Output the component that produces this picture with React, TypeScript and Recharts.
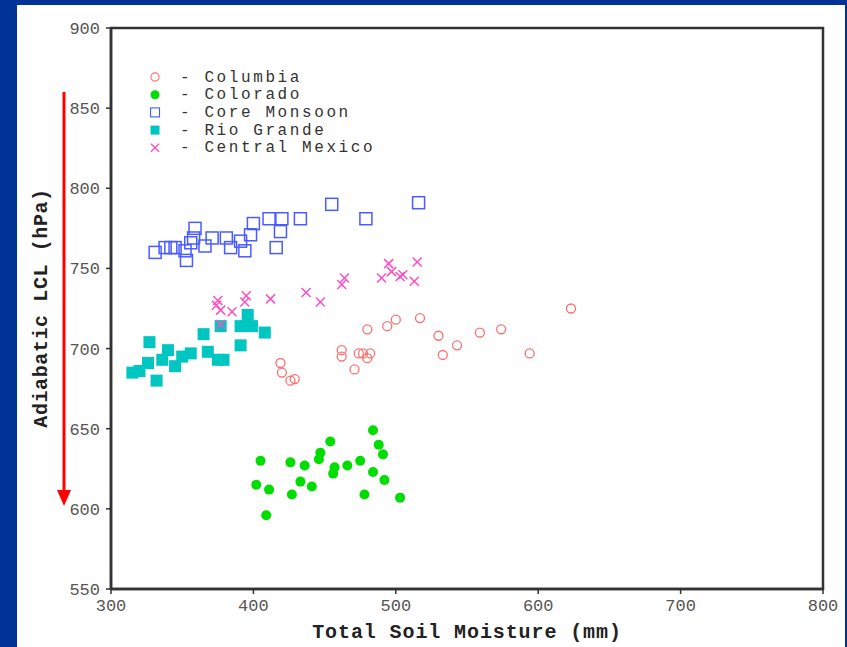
import React from 'react';
import { ScatterChart, Scatter, XAxis, YAxis, ReferenceArea } from 'recharts';

const columbiaX = [462, 462, 474, 477, 482, 480, 471, 480, 494, 500, 517, 530, 533, 543, 559, 574, 594, 623, 419, 420, 426, 429];
const columbiaY = [699, 695, 697, 697, 697, 694, 687, 712, 714, 718, 719, 708, 696, 702, 710, 712, 697, 725, 691, 685, 680, 681];

const coloradoX = [436, 433, 441, 447, 446, 454, 457, 456, 466, 475, 478, 484, 488, 491, 484, 492, 503, 402, 411, 409, 427, 405, 426];
const coloradoY = [627, 617, 614, 635, 631, 642, 626, 622, 627, 630, 609, 649, 640, 634, 623, 618, 607, 615, 612, 596, 609, 630, 629];

const coreX = [331, 338, 342, 345, 352, 353, 359, 358, 356, 366, 371, 381, 384, 391, 394, 398, 400, 411, 420, 419, 416, 433, 455, 479, 516];
const coreY = [760, 763, 763, 763, 761, 755, 775, 769, 766, 764, 769, 769, 763, 767, 761, 771, 778, 781, 781, 773, 763, 781, 790, 781, 791];

const rioX = [315, 320, 327, 326, 332, 336, 340, 345, 350, 356, 365, 368, 375, 379, 377, 391, 391, 396, 399, 408];
const rioY = [685, 686, 704, 691, 680, 693, 699, 689, 695, 697, 709, 698, 693, 693, 714, 702, 714, 721, 714, 710];

const mexicoX = [374, 375, 377, 385, 395, 394, 412, 437, 447, 462, 464, 377, 495, 515, 490, 497, 503, 505, 513];
const mexicoY = [727, 730, 724, 723, 733, 729, 731, 735, 729, 740, 744, 715, 753, 754, 744, 748, 745, 746, 742];

const seriesNames = ['Columbia', 'Colorado', 'Core Monsoon', 'Rio Grande', 'Central Mexico'];
const xTicks = [300, 400, 500, 600, 700, 800];
const yTicks = [550, 600, 650, 700, 750, 800, 850, 900];
const minorXTicks = Array.from({ length: 51 }, (_, i) => 300 + i * 10);

const xTitle = 'Total Soil Moisture (mm)';
const yTitle = 'Adiabatic LCL (hPa)';

const zip = (xs: number[], ys: number[]) => xs.map((x, i) => ({ x, y: ys[i] }));

const C_COL = '#ff6f6f';
const C_COLO = '#00dd00';
const C_CORE = '#4a5cff';
const C_RIO = '#00c6c2';
const C_MEX = '#ff4fc4';

const OpenCircle = (p: any) => <circle cx={p.cx} cy={p.cy} r={4.5} fill="none" stroke={C_COL} strokeWidth={1.3} />;
const FilledCircle = (p: any) => <circle cx={p.cx} cy={p.cy} r={5} fill={C_COLO} />;
const OpenSquare = (p: any) => <rect x={p.cx - 6} y={p.cy - 6} width={12} height={12} fill="none" stroke={C_CORE} strokeWidth={1.5} />;
const FilledSquare = (p: any) => <rect x={p.cx - 6} y={p.cy - 6} width={12} height={12} fill={C_RIO} />;
const Cross = (p: any) => (
  <g stroke={C_MEX} strokeWidth={1.5}>
    <line x1={p.cx - 4.5} y1={p.cy - 4.5} x2={p.cx + 4.5} y2={p.cy + 4.5} />
    <line x1={p.cx - 4.5} y1={p.cy + 4.5} x2={p.cx + 4.5} y2={p.cy - 4.5} />
  </g>
);

const legendShapes = [OpenCircle, FilledCircle, OpenSquare, FilledSquare, Cross];

const FONT = '"Liberation Mono", "DejaVu Sans Mono", monospace';

const LegendBox = () => (
  <svg width={260} height={110} style={{ position: 'absolute', left: 140, top: 59 }}>
    {seriesNames.map((n, i) => {
      const Shape = legendShapes[i];
      const cy = 18 + i * 17.7;
      const sc = i === 2 || i === 3 ? 0.75 : 0.9;
      return (
        <g key={n}>
          <g transform={`translate(15,${cy}) scale(${sc}) translate(-15,${-cy})`}>
            <Shape cx={15} cy={cy} />
          </g>
          <text x={40} y={cy + 4.5} fontFamily={FONT} fontSize={16} letterSpacing={2.6} fill="#333">
            {'- ' + n}
          </text>
        </g>
      );
    })}
  </svg>
);

export default function App() {
  return (
    <div style={{ position: 'fixed', left: 0, top: 0, width: 847, height: 647, background: '#013397', overflow: 'hidden' }}>
      <div style={{ position: 'absolute', left: 17, top: 5, width: 828, height: 642, background: '#ffffff' }} />
      <div style={{ position: 'absolute', left: 0, top: 0 }}>
        <ScatterChart width={847} height={647} margin={{ top: 28, right: 24, bottom: 18, left: 51 }}>
          <XAxis
            xAxisId="minor"
            type="number"
            dataKey="x"
            domain={[300, 800]}
            ticks={minorXTicks}
            mirror
            height={0}
            tickSize={3}
            tick={false}
            axisLine={false}
            tickLine={{ stroke: '#777', strokeWidth: 1 }}
          />
          <XAxis
            type="number"
            dataKey="x"
            domain={[300, 800]}
            ticks={xTicks}
            height={40}
            tickSize={5}
            tickLine={{ stroke: '#333', strokeWidth: 1.5 }}
            axisLine={{ stroke: '#333', strokeWidth: 2.5 }}
            tick={{ fontFamily: FONT, fontSize: 17, fill: '#555', dy: 3 }}
            label={{
              content: () => (
                <text x={467} y={638} textAnchor="middle" fontFamily={FONT} fontSize={20} fontWeight="bold" letterSpacing={0.9} fill="#222">
                  {xTitle}
                </text>
              ),
            }}
          />
          <YAxis
            type="number"
            dataKey="y"
            domain={[550, 900]}
            ticks={yTicks}
            width={60}
            tickSize={5}
            tickLine={{ stroke: '#333', strokeWidth: 1.5 }}
            axisLine={{ stroke: '#333', strokeWidth: 2.5 }}
            tick={{ fontFamily: FONT, fontSize: 17, fill: '#555', dx: -4 }}
            label={{
              content: () => (
                <text transform="translate(47,308) rotate(-90)" textAnchor="middle" fontFamily={FONT} fontSize={20} fontWeight="bold" letterSpacing={0.6} fill="#222">
                  {yTitle}
                </text>
              ),
            }}
          />
          <ReferenceArea x1={300} x2={800} y1={550} y2={900} fill="none" stroke="#333" strokeWidth={2.5} ifOverflow="visible" />
          <Scatter name={seriesNames[0]} data={zip(columbiaX, columbiaY)} shape={OpenCircle} isAnimationActive={false} />
          <Scatter name={seriesNames[1]} data={zip(coloradoX, coloradoY)} shape={FilledCircle} isAnimationActive={false} />
          <Scatter name={seriesNames[2]} data={zip(coreX, coreY)} shape={OpenSquare} isAnimationActive={false} />
          <Scatter name={seriesNames[3]} data={zip(rioX, rioY)} shape={FilledSquare} isAnimationActive={false} />
          <Scatter name={seriesNames[4]} data={zip(mexicoX, mexicoY)} shape={Cross} isAnimationActive={false} />
        </ScatterChart>
      </div>
      <LegendBox />
      <svg style={{ position: 'absolute', left: 0, top: 0, pointerEvents: 'none' }} width={847} height={647}>
        <line x1={64} y1={92} x2={64} y2={492} stroke="#ff0000" strokeWidth={3} />
        <polygon points="57,490 71,490 64,506" fill="#ff0000" />
      </svg>
    </div>
  );
}
